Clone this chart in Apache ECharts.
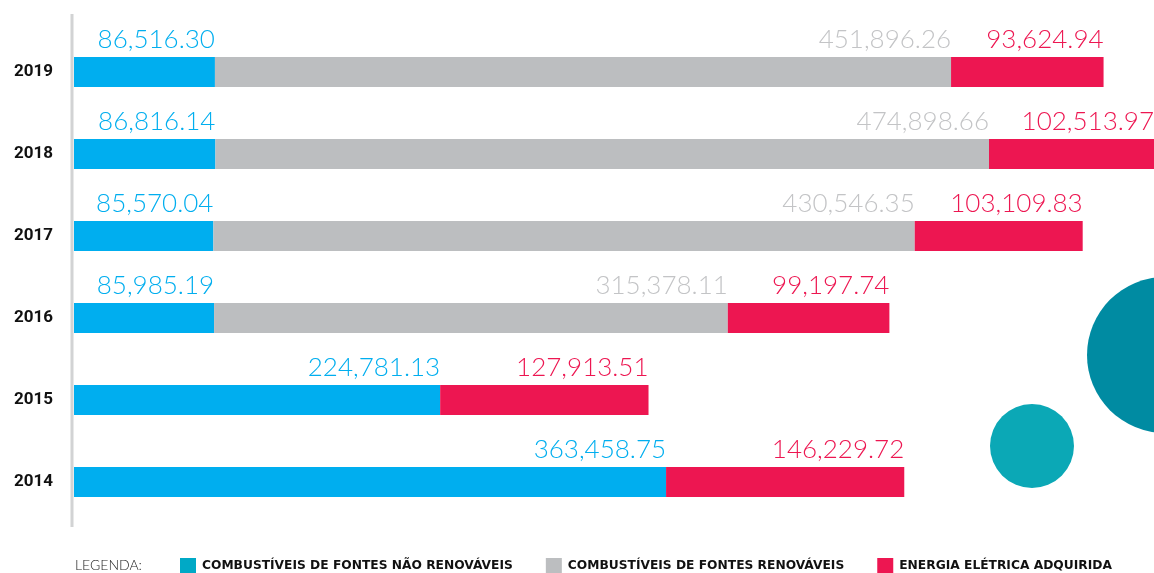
<!DOCTYPE html>
<html>
<head>
<meta charset="utf-8">
<script src="https://cdn.jsdelivr.net/npm/echarts@6/dist/echarts.min.js"></script>
<style>
  html, body { margin: 0; padding: 0; background: #fff; }
  #chart { width: 1154px; height: 573px; }
</style>
</head>
<body>
<div id="chart"></div>
<script>
var anos = ['2019', '2018', '2017', '2016', '2015', '2014'];
var naoRenovaveis = [86516.30, 86816.14, 85570.04, 85985.19, 224781.13, 363458.75];
var renovaveis = [451896.26, 474898.66, 430546.35, 315378.11, null, null];
var energiaEletrica = [93624.94, 102513.97, 103109.83, 99197.74, 127913.51, 146229.72];

var nomes = [
	'COMBUSTÍVEIS DE FONTES NÃO RENOVÁVEIS',
	'COMBUSTÍVEIS DE FONTES RENOVÁVEIS',
	'ENERGIA ELÉTRICA ADQUIRIDA'
];

var azul = '#00aeef', cinza = '#bcbec0', vermelho = '#ed1651';

function fmt(v) {
	return Number(v).toLocaleString('en-US', { minimumFractionDigits: 2, maximumFractionDigits: 2 });
}

function rotulo(cor) {
	return {
		show: true,
		position: ['100%', 0],
		align: 'right',
		verticalAlign: 'bottom',
		offset: [0, -4],
		color: cor,
		fontFamily: 'Lato',
		fontWeight: 300,
		fontSize: 26,
		formatter: function (p) { return fmt(p.value); }
	};
}

var myChart = echarts.init(document.getElementById('chart'));

var option = {
	animation: false,
	grid: { left: 74, right: 0, top: 31, bottom: 50 },
	xAxis: {
		type: 'value',
		min: 0,
		max: 663000,
		show: false
	},
	yAxis: {
		type: 'category',
		data: anos,
		inverse: true,
		axisLine: { show: false },
		axisTick: { show: false },
		axisLabel: {
			margin: 21,
			color: '#111',
			fontFamily: 'Roboto',
			fontWeight: 'bold',
			fontSize: 17
		}
	},
	legend: {
		left: 175,
		bottom: -6,
		itemWidth: 16,
		itemHeight: 16,
		itemGap: 33,
		icon: 'rect',
		selectedMode: false,
		textStyle: {
			color: '#111',
			fontFamily: 'DejaVu Sans',
			fontWeight: 'bold',
			fontSize: 12.25,
			padding: [0, 0, 0, 1]
		},
		data: [
			{ name: nomes[0], itemStyle: { color: '#00a9c6' } },
			{ name: nomes[1], itemStyle: { color: cinza } },
			{ name: nomes[2], itemStyle: { color: vermelho } }
		]
	},
	graphic: [
		{
			type: 'line',
			shape: { x1: 72, y1: 14, x2: 72, y2: 527 },
			style: { stroke: '#d2d3d4', lineWidth: 3 }
		},
		{
			type: 'text',
			left: 75,
			top: 558,
			style: {
				text: 'LEGENDA:',
				fill: '#222',
				font: '300 14px Lato'
			}
		},
		{
			type: 'circle',
			shape: { cx: 1165, cy: 355, r: 78 },
			style: { fill: '#008ba2' },
			z: -1
		},
		{
			type: 'circle',
			shape: { cx: 1032, cy: 446, r: 42 },
			style: { fill: '#0ba8b6' },
			z: -1
		}
	],
	series: [
		{
			name: nomes[0],
			type: 'bar',
			stack: 'total',
			barWidth: 30,
			itemStyle: { color: azul },
			label: rotulo(azul),
			data: naoRenovaveis
		},
		{
			name: nomes[1],
			type: 'bar',
			stack: 'total',
			barWidth: 30,
			itemStyle: { color: cinza },
			label: rotulo('#c3c4c6'),
			data: renovaveis
		},
		{
			name: nomes[2],
			type: 'bar',
			stack: 'total',
			barWidth: 30,
			itemStyle: { color: vermelho },
			label: rotulo(vermelho),
			data: energiaEletrica
		}
	]
};

myChart.setOption(option);
</script>
</body>
</html>
